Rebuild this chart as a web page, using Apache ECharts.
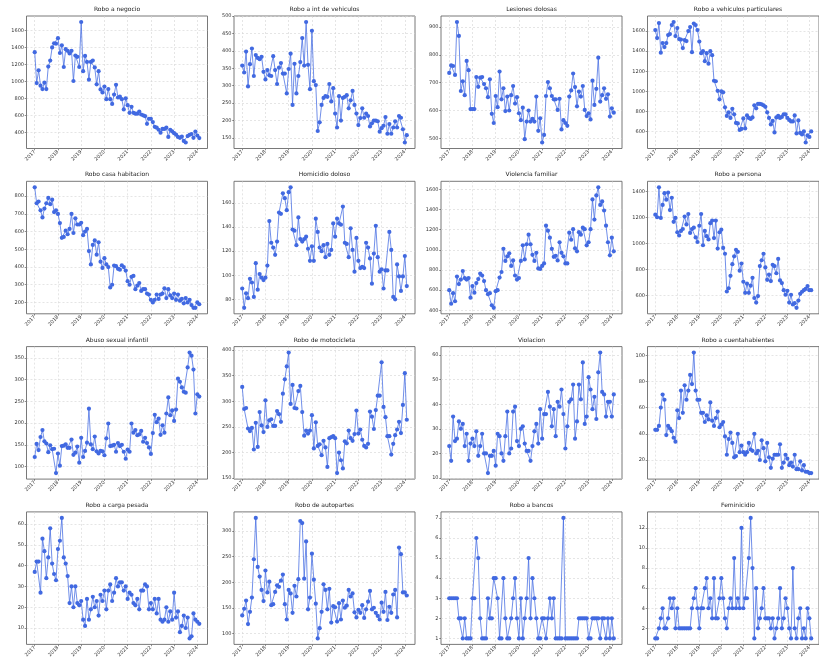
<!DOCTYPE html>
<html>
<head>
<meta charset="utf-8">
<title>Delitos por mes</title>
<script src="https://cdn.jsdelivr.net/npm/echarts@6/dist/echarts.min.js"></script>
<style>
  html, body { margin: 0; padding: 0; background: #fff; }
  #main { width: 819px; height: 662px; }
</style>
</head>
<body>
<div id="main"></div>
<script>
// monthly counts, Jan 2017 .. Feb 2024 (null = month without record)
var roboNegocio = [1345, 980, 1130, 950, 910, 985, 910, 1175, 1245, 1400, 1450, 1445,
  1510, 1335, 1425, 1170, 1380, 1360, 1330, 1360, 1005, 1305, 1290, 1170,
  1700, 1120, 1300, 1230, 1020, 1230, 1245, 1165, 965, 1120, 905, 870,
  940, 790, 910, 790, 735, 845, 960, 810, 820, 790, 670, 800,
  720, 630, 700, 630, 620, 620, 645, 610, 600, 590, 500, 560,
  560, 520, 465, 455, 430, 395, 440, 440, 455, 345, 430, 410,
  390, 372, 345, 335, 350, 298, 280, 355, 370, 380, 335, 408,
  362, 332];
var roboIntVehiculos = [358, 338, 398, 298, 362, 407, 328, 388, 380, 376, 383, 340,
  318, 345, 330, 328, 385, 345, 305, 352, 365, 335, 335, 278,
  348, 392, 245, 363, 278, 328, 368, 437, 358, 483, 360, 290,
  458, 313, 302, 170, 195, 245, 265, 270, 268, 305, 255, 293,
  220, 180, 270, 200, 265, 268, 273, 235, 258, 285, 245, 220,
  187, 207, 235, 208, 220, 213, 183, 192, 200, 200, 198, 168,
  178, 185, 210, 162, 190, 162, 180, 198, 180, 213, 208, 175,
  137, 158];
var lesionesDolosas = [735, 762, 760, 728, 918, 868, 670, 705, 655, 778, 745, 605,
  605, 605, 720, 685, 718, 720, 695, 680, 648, 712, 588, 555,
  652, 612, 740, 640, 680, 598, 650, 600, 655, 688, 625, 648,
  590, 565, 610, 497, 560, 600, 560, 570, 560, 650, 527, 572,
  485, 512, 652, 702, 680, 652, 640, 640, 602, 642, 532, 565,
  555, 545, 650, 672, 733, 684, 615, 668, 650, 688, 602, 580,
  590, 568, 707, 620, 678, 790, 632, 655, 680, 642, 658, 578,
  608, 592];
var roboVehParticulares = [1610, 1530, 1680, 1385, 1480, 1440, 1480, 1560, 1570, 1660, 1690, 1550,
  1630, 1520, 1515, 1430, 1510, 1500, 1600, 1640, 1390, 1675, 1660, 1610,
  1495, 1380, 1400, 1300, 1380, 1275, 1400, 1360, 1105, 1100, 1005, 920,
  1000, 990, 840, 755, 790, 735, 825, 770, 685, 680, 615, 625,
  730, 630, 760, 735, 725, 740, 860, 830, 875, 875, 870, 860,
  845, 790, 735, 670, 705, 590, 740, 755, 735, 745, 770, 770,
  735, 715, 700, 700, 760, 580, 710, 585, 570, 600, 490, 560,
  545, 600];
var roboCasa = [850, 760, 770, 720, 680, 730, 760, 790, 755, 780, 710, 720,
  700, 648, 565, 570, 605, 585, 615, 700, 592, 675, 640, 640,
  650, 580, 600, 615, 490, 415, 525, 550, 470, 540, 430, 395,
  450, 415, 400, 285, 300, 408, 405, 390, 385, 410, 400, 380,
  320, 300, 345, 350, 275, 295, 310, 265, 275, 275, 250, 245,
  215, 200, 215, 245, 220, 245, 250, 280, 225, 275, 240, 225,
  250, 215, 245, 210, 220, 195, 225, 200, 215, 185, 170, 170,
  200, 190];
var homicidio = [89, 73, 85, 81, 97, 94, 82, 110, 88, 101, 98, 96,
  98, 108, 145, 127, 123, 117, 128, 152, 151, 168, 164, 154,
  169, 173, 138, 137, 125, 148, 130, 128, 130, 132, 122, 112,
  124, 112, 147, 136, 123, 120, 125, 115, 126, 117, 121, 143,
  132, 147, 143, 142, 157, 127, 126, 115, 139, 121, 103, 131,
  112, 106, 107, 106, 127, 123, 114, 93, 118, 141, 115, 103,
  105, 89, 104, 104, 136, 121, 82, 80, 109, 99, 87, 99,
  116, 91];
var violenciaFamiliar = [600, 465, 570, 490, 735, 660, 705, 790, 720, 705, 720, 525,
  640, 575, 670, 710, 765, 745, 690, 600, 560, 570, 450, 425,
  590, 600, 725, 780, 1010, 890, 935, 965, 840, 895, 745, 705,
  720, 890, 1045, 905, 1055, 1150, 1055, 950, 890, 970, 815, 810,
  840, 865, 1240, 1190, 1120, 1010, 930, 940, 895, 1075, 970, 935,
  865, 865, 1170, 1100, 1205, 1015, 985, 1175, 1150, 1220, 1205, 1045,
  1075, 1205, 1500, 1300, 1540, 1620, 1445, 1480, 1390, 1240, 1075, 945,
  1120, 985];
var roboPersona = [1220, 1200, 1430, 1195, 1295, 1385, 1335, 1390, 1255, 1350, 1165, 1195,
  1085, 1060, 1095, 1110, 1205, 1145, 1225, 1080, 1110, 1120, 1045, 1010,
  1135, 1225, 985, 1095, 1055, 1030, 1155, 1175, 1040, 1175, 960, 1085,
  1105, 965, 920, 630, 655, 750, 840, 900, 950, 935, 790, 845,
  705, 620, 690, 620, 675, 735, 580, 545, 595, 825, 870, 920,
  815, 720, 760, 710, 835, 825, 770, 880, 715, 695, 640, 605,
  635, 545, 605, 530, 540, 505, 560, 612, 628, 640, 650, 672,
  640, 640];
var abusoSexual = [122, 152, 138, 168, 184, 158, 153, 133, 149, 140, 141, 85,
  130, 102, 147, 148, 151, 143, 143, 162, 127, 132, 146, 109,
  166, 122, 136, 155, 233, 151, 140, 169, 135, 130, 136, 135,
  126, 165, 199, 147, 148, 150, 134, 154, 147, 150, 134, 118,
  139, 134, 199, 178, 184, 172, 174, 182, 157, 166, 154, 144,
  129, 177, 219, 202, 210, 173, 195, 178, 222, 259, 218, 229,
  205, 231, 302, 295, 282, 272, 270, 328, 362, 355, 323, 222,
  266, 261];
var roboMoto = [328, 285, 287, 247, 242, 248, 206, 258, 211, 279, 253, 240,
  302, 250, 263, 265, 252, 252, 281, 275, 260, 315, 343, 368,
  395, 295, 332, 287, 286, 320, 330, 279, 233, 243, 237, 243,
  273, 208, 259, 213, 216, 195, 223, 210, 172, 228, 230, 232,
  228, 160, 200, 185, 169, 222, 218, 243, 228, 223, 236, 282,
  237, 245, 225, 213, 210, 217, 280, 270, 246, 283, 311, 311,
  376, 289, 269, 232, 232, 196, 217, 234, 245, 260, 238, 293,
  355, 264];
var violacion = [23, 17, 35, 25, 26, 33, 30, 32, 23, 28, 17, 24,
  26, 23, 29, 19, 23, 28, 20, 20, 12, 19, 19, 21,
  15, 28, 27, 20, 17, 27, 37, 20, 22, 37, 39, 25,
  23, 30, 31, 24, 21, 21, 17, 23, 29, 32, 24, 38,
  26, 36, 36, 45, 39, 31, 38, 27, 41, 39, 46, 36,
  22, 31, 41, 42, 48, 26, 33, 48, 42, 57, 32, 35,
  51, 46, 38, 43, 34, 53, 61, 45, 44, 35, 41, 41,
  35, 44];
var roboCuentahab = [43, 43, 46, 60, 70, 66, 39, 46, 44, 42, 37, 34,
  58, 52, 73, 56, 77, 66, 73, 85, 78, 102, 73, 66,
  66, 56, 56, 49, 54, 51, 64, 50, 46, 52, 57, 45,
  47, 49, 38, 24, 36, 41, 33, 22, 23, 40, 26, 31,
  26, 24, 26, 33, 28, 27, 40, 25, 27, 20, 35, 29,
  19, 33, 22, 14, 21, 24, 24, 24, 32, 14, 18, 24,
  21, 16, 18, 15, 24, 13, 13, 19, 12, 16, 11, 11,
  10, 10];
var roboCarga = [37, 42, 42, 27, 53, 47, 34, 44, 58, 41, 36, 33,
  48, 52, 63, 44, 41, 35, 22, 30, 20, 30, 22, 21,
  23, 14, 11, 24, 14, 19, 25, 20, 23, 16, 26, 23,
  28, 19, 28, 31, 23, 27, 34, 30, 32, 32, 28, 30,
  24, 27, 26, 22, 21, 24, 19, 28, 28, 31, 30, 19,
  22, 19, 24, 17, 24, 14, 13, 14, 20, 13, 18, 14,
  27, 15, 18, 8, 11, 16, 10, 15, 5, 6, 17, 14,
  13, 12];
var roboAutopartes = [135, 148, 164, 118, 142, 170, 245, 326, 230, 211, 185, 163,
  223, 180, 201, 155, 157, 181, 194, 191, 203, 215, 157, 127,
  185, 178, 140, 193, 172, 206, 320, 316, 207, 280, 147, 170,
  256, 205, 158, 90, 110, 142, 196, 185, 147, 187, 121, 153,
  151, 123, 159, 127, 164, 150, 154, 185, 172, 178, 141, 131,
  146, 140, 155, 130, 147, 162, 183, 147, 150, 140, 134, 127,
  160, 142, 181, 126, 152, 140, 176, 185, 131, 268, 255, 180,
  180, 174];
var roboBancos = [3, 3, 3, 3, 3, 2, 2, 1, 2, 1, 1, 1,
  3, 3, 6, 5, 2, 1, 1, 1, 3, 2, 2, 4,
  4, 3, 1, 1, 4, 2, 1, 1, 2, 3, 4, 2,
  1, 3, 1, 2, 3, 5, 2, 4, 3, 2, 1, 1,
  2, 2, 1, 2, 3, 2, 3, 1, 1, 1, 1, 7,
  1, 1, 1, 1, 1, 1, 1, 2, 2, 2, 2, 2,
  1, 1, 2, 2, 2, 2, 1, 2, 2, 1, 2, 1,
  2, 1];
var feminicidio = [1, 1, 2, 3, 4, 2, 2, 3, 5, 4, 5, 2,
  4, 2, 2, 2, 2, 2, 2, 2, 4, 5, 6, 4,
  2, 4, 4, 6, 7, 4, 5, 3, 7, 3, 3, 5,
  7, 5, 3, 2, 4, 5, 4, 9, 4, 5, 4, 12,
  4, 5, 5, 9, 13, 8, 1, 6, 2, 3, 4, 6,
  3, 3, 3, 2, 3, 1, 2, 3, 6, 2, 3, 5,
  4, 2, 1, 8, 2, 1, 3, 4, 1, 2, 1, 4,
  3, 1];

var panelNames = ['Robo a negocio', 'Robo a int de vehiculos', 'Lesiones dolosas', 'Robo a vehiculos particulares',
  'Robo casa habitacion', 'Homicidio doloso', 'Violencia familiar', 'Robo a persona',
  'Abuso sexual infantil', 'Robo de motocicleta', 'Violacion', 'Robo a cuentahabientes',
  'Robo a carga pesada', 'Robo de autopartes', 'Robo a bancos', 'Feminicidio'];
var panelData = [roboNegocio, roboIntVehiculos, lesionesDolosas, roboVehParticulares,
  roboCasa, homicidio, violenciaFamiliar, roboPersona,
  abusoSexual, roboMoto, violacion, roboCuentahab,
  roboCarga, roboAutopartes, roboBancos, feminicidio];
var yStep = [200, 50, 100, 200, 100, 20, 200, 200, 50, 50, 10, 20, 10, 50, 1, 2];

// month positions as fractional years
var months = [];
for (var i = 0; i < roboNegocio.length; i++) months.push(2017 + i / 12);

var colLeft = [26.5, 234, 441, 647.5];
var rowTop = [16, 181.3, 346.6, 511.9];
var plotW = 181, plotH = 132.5;
var xSpan = months[months.length - 1] - months[0];
var xMin = months[0] - 0.05 * xSpan, xMax = months[months.length - 1] + 0.05 * xSpan;
var fontFam = 'DejaVu Sans';

function onStep(v, step) {
  var q = v / step;
  return Math.abs(q - Math.round(q)) < 1e-6;
}

var gridLines = { show: true, showMinLine: false, showMaxLine: false,
  lineStyle: { color: '#d4d4d4', width: 0.6, type: [2, 2] } };
var ticks = { show: true, length: 1.8, lineStyle: { color: '#444', width: 0.6 } };

var option = { animation: false, backgroundColor: '#fff', title: [], grid: [], xAxis: [], yAxis: [], series: [] };

panelData.forEach(function (vals, k) {
  var r = Math.floor(k / 4), c = k % 4;
  var good = vals.filter(function (v) { return v != null; });
  var lo = Math.min.apply(null, good), hi = Math.max.apply(null, good);
  var pad = (hi - lo) * 0.05;
  var step = yStep[k];

  option.title.push({
    text: panelNames[k], left: colLeft[c] + plotW / 2, top: rowTop[r] - 9.5,
    textAlign: 'center', padding: 0,
    textStyle: { fontSize: 6, fontWeight: 'normal', color: '#222', fontFamily: fontFam }
  });
  option.grid.push({
    left: colLeft[c], top: rowTop[r], width: plotW, height: plotH,
    show: true, borderColor: '#6a6a6a', borderWidth: 0.9, backgroundColor: '#fff'
  });
  option.xAxis.push({
    type: 'value', gridIndex: k, min: xMin, max: xMax, minInterval: 1, maxInterval: 1,
    axisLine: { show: false },
    axisTick: ticks,
    axisLabel: {
      rotate: 45, fontSize: 5, margin: 2.5, color: '#333', fontFamily: fontFam,
      showMinLabel: false, showMaxLabel: false,
      formatter: function (v) { return onStep(v, 1) ? String(Math.round(v)) : ''; }
    },
    splitLine: gridLines
  });
  option.yAxis.push({
    type: 'value', gridIndex: k, min: lo - pad, max: hi + pad, minInterval: step, maxInterval: step,
    axisLine: { show: false },
    axisTick: ticks,
    axisLabel: {
      fontSize: 5, margin: 2.5, color: '#333', fontFamily: fontFam,
      showMinLabel: false, showMaxLabel: false,
      formatter: function (v) { return onStep(v, step) ? String(Math.round(v)) : ''; }
    },
    splitLine: gridLines
  });
  option.series.push({
    type: 'line', xAxisIndex: k, yAxisIndex: k, connectNulls: true,
    symbol: 'circle', symbolSize: 4.2, showSymbol: true,
    itemStyle: { color: '#4169E1' },
    lineStyle: { color: '#4169E1', width: 1, opacity: 0.75 },
    data: months.map(function (m, i) { return [m, vals[i]]; })
  });
});

var chart = echarts.init(document.getElementById('main'));
chart.setOption(option);
</script>
</body>
</html>
